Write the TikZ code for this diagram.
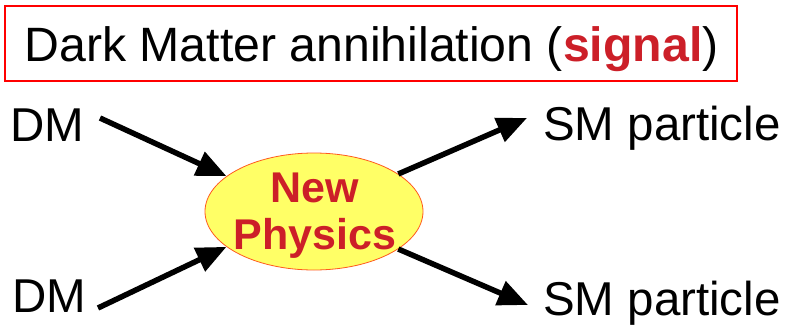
\documentclass[tikz,border=0pt]{standalone}
\usepackage{fontspec}
\setmainfont{Liberation Sans}
\usetikzlibrary{arrows.meta,shapes.geometric}
\definecolor{sigred}{HTML}{CC1F28}
\definecolor{npfill}{HTML}{FFFF66}
\definecolor{npborder}{HTML}{FF5A1E}
\begin{document}
\begin{tikzpicture}[x=1pt,y=-1pt,
  lbl/.style={inner sep=0pt, anchor=base west, font=\fontsize{47.5}{52}\selectfont},
  ttl/.style={inner sep=0pt, anchor=base west, font=\fontsize{48.2}{52}\selectfont},
  arr/.style={line width=5.5pt, -{Triangle[length=30pt,width=25pt]}},
  titlebox/.style={draw=red, line width=2pt, minimum width=732pt, minimum height=75pt, inner sep=0pt},
  npshape/.style={ellipse, draw=npborder, line width=0.8pt, fill=npfill, minimum width=218pt, minimum height=117pt, inner sep=0pt},
  nptext/.style={inner sep=0pt, align=center, text=sigred, font=\fontsize{43}{47}\selectfont\bfseries}
]
\useasboundingbox (0,0) rectangle (788,325);
% title
\node[titlebox] (tb) at (371,43.5) {};
\node[ttl] (tt) at (24.5,61) {Dark Matter annihilation (\textcolor{sigred}{\textbf{signal}})};
% central ellipse
\node[npshape] (np) at (314,211.5) {};
\node[nptext] (npl) at (315,215.6) {New\\Physics};
% labels
\node[lbl] (dm1) at (10.5,141) {DM};
\node[lbl] (dm2) at (12,312) {DM};
\node[lbl] (sm1) at (543,140) {SM particle};
\node[lbl] (sm2) at (543,315) {SM particle};
% arrow free ends
\coordinate (s1) at (100,118);
\coordinate (s2) at (98,308);
\coordinate (t1) at (527,118);
\coordinate (t2) at (528,305);
\draw[arr] (s1) -- (np.158);
\draw[arr] (s2) -- (np.202);
\draw[arr] (np.24) -- (t1);
\draw[arr] (np.336) -- (t2);
\end{tikzpicture}
\end{document}
